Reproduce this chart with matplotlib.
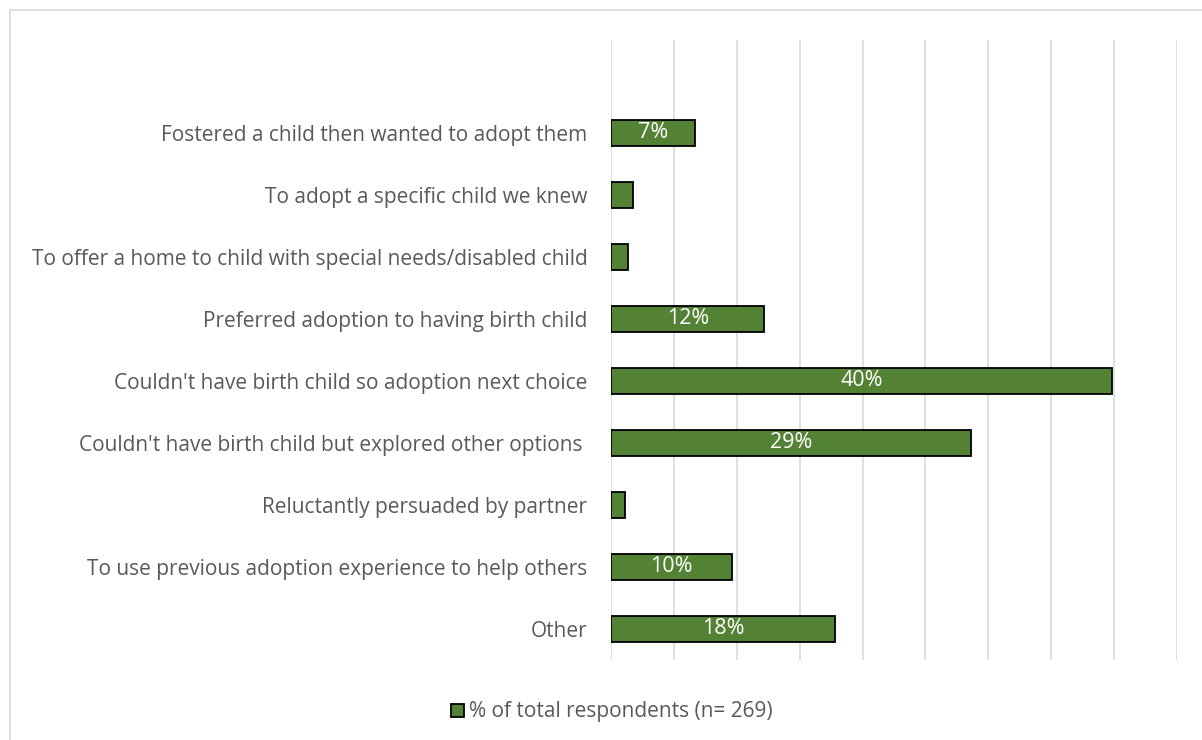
import matplotlib
matplotlib.use("Agg")
import matplotlib.pyplot as plt
from matplotlib.patches import Rectangle, Patch

categories = [
    "Other",
    "To use previous adoption experience to help others",
    "Reluctantly persuaded by partner",
    "Couldn't have birth child but explored other options ",
    "Couldn't have birth child so adoption next choice",
    "Preferred adoption to having birth child",
    "To offer a home to child with special needs/disabled child",
    "To adopt a specific child we knew",
    "Fostered a child then wanted to adopt them",
]
values = [17.8, 9.6, 1.1, 28.6, 39.8, 12.2, 1.35, 1.75, 6.7]
shown_labels = ["18%", "10%", "", "29%", "40%", "12%", "", "", "7%"]
series_name = "% of total respondents (n= 269)"

W, H = 1202, 740
fig = plt.figure(figsize=(W / 100, H / 100), dpi=100)
font = "Open Sans"
text_grey = "#595959"
bar_green = "#548235"
grid_grey = "#d9d9d9"

# outer chart frame
fig.patches.append(Rectangle((10 / W, -0.05), 1.2, (H - 10) / H + 0.05,
                             transform=fig.transFigure, fill=False,
                             edgecolor=grid_grey, linewidth=1.2))

ax = fig.add_axes([611 / W, 80 / H, 566 / W, 620 / H])
y = list(range(len(categories)))
bars = ax.barh(y, values, height=0.41, color=bar_green, edgecolor="black",
               linewidth=1.3, zorder=3)

ax.set_xlim(0, 45)
ax.set_ylim(-0.5, len(categories) + 0.5)
ax.set_xticks(range(0, 46, 5))
ax.tick_params(axis="x", length=0, labelbottom=False)
ax.grid(axis="x", color=grid_grey, linewidth=1.2, zorder=0)
ax.set_yticks(y)
ax.set_yticklabels(categories, fontsize=15, color=text_grey, family=font)
ax.tick_params(axis="y", length=0, pad=17)
for s in ax.spines.values():
    s.set_visible(False)

for rect, lab in zip(bars, shown_labels):
    if lab:
        ax.text(rect.get_width() / 2, rect.get_y() + rect.get_height() / 2,
                lab, ha="center", va="center", color="white",
                fontsize=15.5, family=font, zorder=4)

handle = Patch(facecolor=bar_green, edgecolor="black", linewidth=1.3)
fig.legend([handle], [series_name], loc="center", bbox_to_anchor=(612 / W, 28 / H),
           frameon=False, handlelength=0.6, handleheight=0.6, handletextpad=0.25,
           prop={"family": font, "size": 15}, labelcolor=text_grey)

fig.savefig("out.png", dpi=100, facecolor="white")
